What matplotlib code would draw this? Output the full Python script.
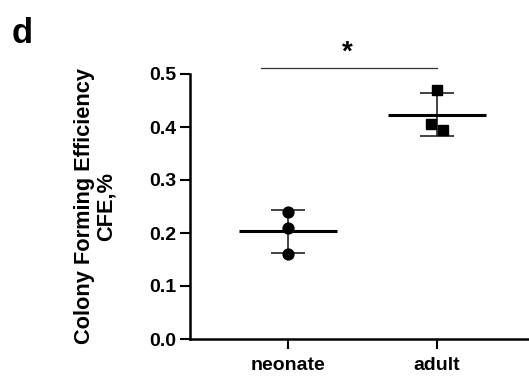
import numpy as np
import matplotlib
matplotlib.use("Agg")
import matplotlib.pyplot as plt

plt.rcParams['font.family'] = ['Liberation Sans', 'DejaVu Sans']
plt.rcParams['font.weight'] = 'bold'

categories = ["neonate", "adult"]
neonate_vals = [0.24, 0.21, 0.16]
adult_vals = [0.47, 0.405, 0.395]
neonate_offsets = [0.0, 0.0, 0.0]
adult_offsets = [0.0, -0.04, 0.04]
yticks = [0.0, 0.1, 0.2, 0.3, 0.4, 0.5]

W, H = 529, 378
fig = plt.figure(figsize=(W / 100, H / 100), dpi=100)
ax = fig.add_axes([190 / W, 1 - 339 / H, 1 - 190 / W, (339 - 74) / H])

groups = [(neonate_vals, neonate_offsets, 'o'), (adult_vals, adult_offsets, 's')]
for i, (vals, offs, m) in enumerate(groups):
    v = np.array(vals)
    mean = v.mean()
    sd = v.std(ddof=1)
    ax.plot([i + o for o in offs], v, linestyle='none', marker=m, color='black',
            markersize=7.8, zorder=3, clip_on=False)
    ax.errorbar(i, mean, yerr=sd, fmt='none', ecolor='#222222', elinewidth=1.2,
                capsize=12, capthick=1.2, zorder=2)
    ax.plot([i - 0.33, i + 0.33], [mean, mean], color='black', lw=2.2, zorder=2,
            solid_capstyle='butt')

ax.set_xlim(-98 / 149, (529 - 288) / 149)
ax.set_ylim(0, 0.5)
ax.set_xticks(range(len(categories)))
ax.set_xticklabels(categories, fontsize=14, fontweight='bold')
ax.set_yticks(yticks)
ax.set_yticklabels([f"{t:.1f}" for t in yticks], fontsize=14, fontweight='bold')
for s in ['top', 'right']:
    ax.spines[s].set_visible(False)
for s in ['left', 'bottom']:
    ax.spines[s].set_linewidth(1.8)
ax.tick_params(axis='both', width=1.5, length=7, pad=3)
ax.tick_params(axis='x', pad=6)

ax.set_ylabel("Colony Forming Efficiency\nCFE,%", fontsize=15.7, fontweight='bold',
              labelpad=23, linespacing=1.05)

# significance bar
ax.plot([-0.181, 1.0], [0.5113, 0.5113], color='#333333', lw=0.9, clip_on=False)
ax.text(0.40, 0.515, "*", ha='center', va='bottom', fontsize=20, fontweight='bold')

fig.text(12 / W, 1 - 43 / H, "d", fontsize=25, fontweight='bold', ha='left', va='baseline')

fig.savefig("out.png", dpi=100)
